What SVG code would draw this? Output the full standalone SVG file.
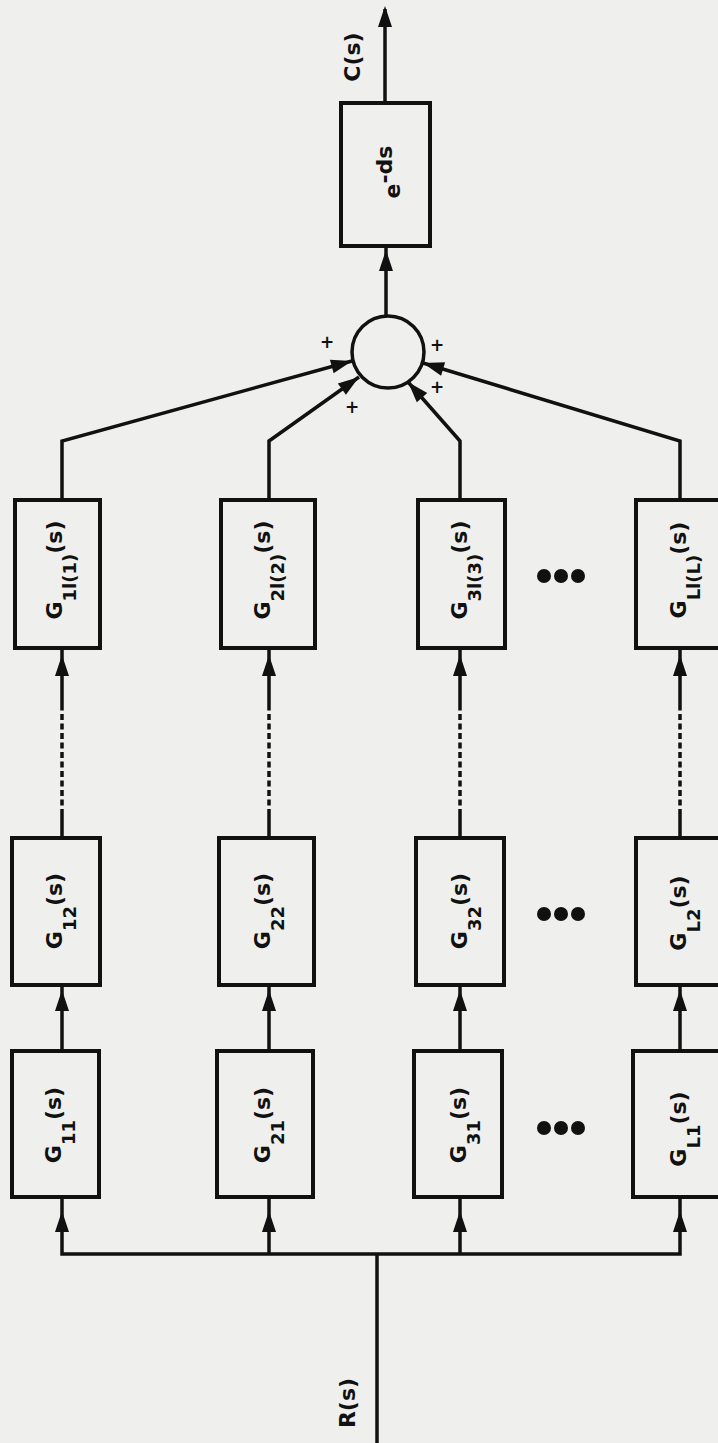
<svg xmlns="http://www.w3.org/2000/svg" xmlns:xlink="http://www.w3.org/1999/xlink" width="718" height="1443" viewBox="0 0 718 1443">
<style>
.bg{fill:#efefed}
.box{fill:none;stroke:#111;stroke-width:4}
.ln{fill:none;stroke:#111;stroke-width:3.5}
.dash{fill:none;stroke:#111;stroke-width:3.5;stroke-dasharray:6 3.5}
.ah{fill:#111}
.lbl{font-family:"DejaVu Sans","Liberation Sans",sans-serif;font-weight:bold;font-size:22px;fill:#111;text-anchor:middle}
.sub{font-size:18px}
.plus{font-family:"DejaVu Sans","Liberation Sans",sans-serif;font-size:17px;font-weight:bold;fill:#111;text-anchor:middle;dominant-baseline:central}
.dot{fill:#111}
</style>
<defs>
<path id="ah" d="M0,0 L7,21 L-7,21 Z"/>
</defs>
<rect class="bg" x="0" y="0" width="718" height="1443"/>

<g id="connectors">
  <path class="ln" d="M377,1443 V1254"/>
  <path class="ln" d="M62,1197 V1254 H680 V1197"/>
  <path class="ln" d="M269,1254 V1197"/>
  <path class="ln" d="M460,1254 V1197"/>
  <path class="ln" d="M62,1051 V985"/>
  <path class="ln" d="M269,1051 V985"/>
  <path class="ln" d="M460,1051 V985"/>
  <path class="ln" d="M680,1051 V985"/>
  <path class="ln" d="M62,838 V815 M62,708 V648"/>
  <path class="dash" d="M62,815 V708"/>
  <path class="ln" d="M269,838 V815 M269,708 V648"/>
  <path class="dash" d="M269,815 V708"/>
  <path class="ln" d="M460,838 V815 M460,708 V648"/>
  <path class="dash" d="M460,815 V708"/>
  <path class="ln" d="M680,838 V815 M680,708 V648"/>
  <path class="dash" d="M680,815 V708"/>
  <path class="ln" d="M62,500 V441 L352,361"/>
  <path class="ln" d="M269,500 V441 L359,377"/>
  <path class="ln" d="M460,500 V441 L408,382"/>
  <path class="ln" d="M680,500 V441 L423,363"/>
  <path class="ln" d="M386,316 V246"/>
  <path class="ln" d="M385,103 V9"/>
  <use class="ah" xlink:href="#ah" href="#ah" x="62" y="1211"/>
  <use class="ah" xlink:href="#ah" href="#ah" x="269" y="1211"/>
  <use class="ah" xlink:href="#ah" href="#ah" x="460" y="1211"/>
  <use class="ah" xlink:href="#ah" href="#ah" x="680" y="1211"/>
  <use class="ah" xlink:href="#ah" href="#ah" x="62" y="990"/>
  <use class="ah" xlink:href="#ah" href="#ah" x="269" y="990"/>
  <use class="ah" xlink:href="#ah" href="#ah" x="460" y="990"/>
  <use class="ah" xlink:href="#ah" href="#ah" x="680" y="990"/>
  <use class="ah" xlink:href="#ah" href="#ah" x="62" y="655"/>
  <use class="ah" xlink:href="#ah" href="#ah" x="269" y="655"/>
  <use class="ah" xlink:href="#ah" href="#ah" x="460" y="655"/>
  <use class="ah" xlink:href="#ah" href="#ah" x="680" y="655"/>
  <use class="ah" xlink:href="#ah" href="#ah" transform="translate(352,361) rotate(74.5)"/>
  <use class="ah" xlink:href="#ah" href="#ah" transform="translate(359,377) rotate(54.6)"/>
  <use class="ah" xlink:href="#ah" href="#ah" transform="translate(408,382) rotate(-41.9)"/>
  <use class="ah" xlink:href="#ah" href="#ah" transform="translate(423,363) rotate(-73.2)"/>
  <use class="ah" xlink:href="#ah" href="#ah" x="386" y="250"/>
  <use class="ah" xlink:href="#ah" href="#ah" x="385" y="6"/>
</g>

<g id="sum">
  <circle class="ln" cx="388" cy="352" r="36"/>
  <text class="plus" x="327" y="342">+</text>
  <text class="plus" x="437" y="345">+</text>
  <text class="plus" x="437" y="387">+</text>
  <text class="plus" x="352" y="407">+</text>
</g>

<g id="delay">
  <rect class="box" x="341" y="103" width="89" height="143"/>
  <text class="lbl" transform="translate(400,172) rotate(-90)">e<tspan dy="-8">-ds</tspan></text>
</g>

<g id="output-label">
  <text class="lbl" transform="translate(360,57) rotate(-90)">C(s)</text>
</g>
<g id="input-label">
  <text class="lbl" transform="translate(355,1403) rotate(-90)">R(s)</text>
</g>

<g id="G1l1">
  <rect class="box" x="15" y="500" width="85" height="148"/>
  <text class="lbl" transform="translate(62,570) rotate(-90)">G<tspan class="sub" dy="14">1l(1)</tspan><tspan dy="-14">(s)</tspan></text>
</g>
<g id="G2l2">
  <rect class="box" x="221" y="500" width="94" height="148"/>
  <text class="lbl" transform="translate(270,570) rotate(-90)">G<tspan class="sub" dy="14">2l(2)</tspan><tspan dy="-14">(s)</tspan></text>
</g>
<g id="G3l3">
  <rect class="box" x="418" y="500" width="87" height="148"/>
  <text class="lbl" transform="translate(467,570) rotate(-90)">G<tspan class="sub" dy="14">3l(3)</tspan><tspan dy="-14">(s)</tspan></text>
</g>
<g id="GLlL">
  <rect class="box" x="636" y="500" width="92" height="148"/>
  <text class="lbl" transform="translate(686,570) rotate(-90)">G<tspan class="sub" dy="14">Ll(L)</tspan><tspan dy="-14">(s)</tspan></text>
</g>

<g id="G12">
  <rect class="box" x="12" y="838" width="88" height="147"/>
  <text class="lbl" transform="translate(62,911) rotate(-90)">G<tspan class="sub" dy="14">12</tspan><tspan dy="-14">(s)</tspan></text>
</g>
<g id="G22">
  <rect class="box" x="219" y="838" width="95" height="147"/>
  <text class="lbl" transform="translate(270,911) rotate(-90)">G<tspan class="sub" dy="14">22</tspan><tspan dy="-14">(s)</tspan></text>
</g>
<g id="G32">
  <rect class="box" x="416" y="838" width="88" height="147"/>
  <text class="lbl" transform="translate(467,911) rotate(-90)">G<tspan class="sub" dy="14">32</tspan><tspan dy="-14">(s)</tspan></text>
</g>
<g id="GL2">
  <rect class="box" x="636" y="838" width="92" height="147"/>
  <text class="lbl" transform="translate(686,913) rotate(-90)">G<tspan class="sub" dy="14">L2</tspan><tspan dy="-14">(s)</tspan></text>
</g>

<g id="G11">
  <rect class="box" x="12" y="1051" width="87" height="146"/>
  <text class="lbl" transform="translate(61,1125) rotate(-90)">G<tspan class="sub" dy="14">11</tspan><tspan dy="-14">(s)</tspan></text>
</g>
<g id="G21">
  <rect class="box" x="217" y="1051" width="96" height="146"/>
  <text class="lbl" transform="translate(270,1125) rotate(-90)">G<tspan class="sub" dy="14">21</tspan><tspan dy="-14">(s)</tspan></text>
</g>
<g id="G31">
  <rect class="box" x="414" y="1051" width="88" height="146"/>
  <text class="lbl" transform="translate(466,1125) rotate(-90)">G<tspan class="sub" dy="14">31</tspan><tspan dy="-14">(s)</tspan></text>
</g>
<g id="GL1">
  <rect class="box" x="633" y="1051" width="95" height="146"/>
  <text class="lbl" transform="translate(686,1129) rotate(-90)">G<tspan class="sub" dy="14">L1</tspan><tspan dy="-14">(s)</tspan></text>
</g>

<g id="ellipses">
  <circle class="dot" cx="544" cy="576" r="7"/>
  <circle class="dot" cx="561" cy="576" r="7"/>
  <circle class="dot" cx="578" cy="576" r="7"/>
  <circle class="dot" cx="544" cy="914" r="7"/>
  <circle class="dot" cx="561" cy="914" r="7"/>
  <circle class="dot" cx="578" cy="914" r="7"/>
  <circle class="dot" cx="544" cy="1128" r="7"/>
  <circle class="dot" cx="561" cy="1128" r="7"/>
  <circle class="dot" cx="578" cy="1128" r="7"/>
</g>
</svg>
